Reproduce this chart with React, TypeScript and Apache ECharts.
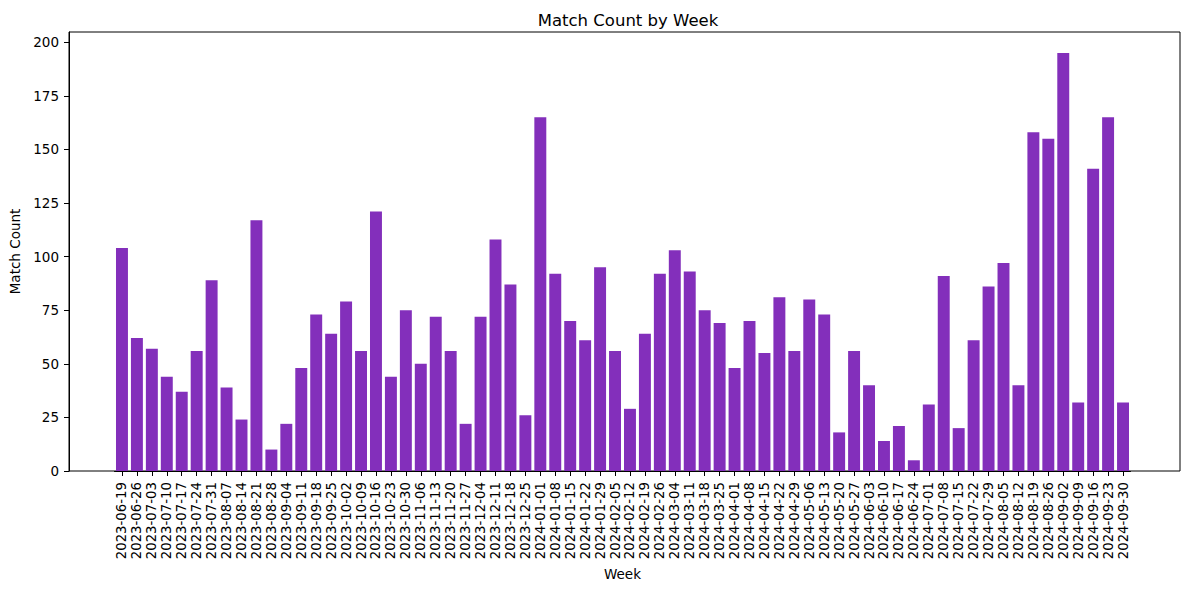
import React, { useEffect, useRef } from "react";
import * as echarts from "echarts";

const weeks: string[] = [
  "2023-06-19", "2023-06-26", "2023-07-03", "2023-07-10", "2023-07-17", "2023-07-24", "2023-07-31",
  "2023-08-07", "2023-08-14", "2023-08-21", "2023-08-28", "2023-09-04", "2023-09-11", "2023-09-18",
  "2023-09-25", "2023-10-02", "2023-10-09", "2023-10-16", "2023-10-23", "2023-10-30", "2023-11-06",
  "2023-11-13", "2023-11-20", "2023-11-27", "2023-12-04", "2023-12-11", "2023-12-18", "2023-12-25",
  "2024-01-01", "2024-01-08", "2024-01-15", "2024-01-22", "2024-01-29", "2024-02-05", "2024-02-12",
  "2024-02-19", "2024-02-26", "2024-03-04", "2024-03-11", "2024-03-18", "2024-03-25", "2024-04-01",
  "2024-04-08", "2024-04-15", "2024-04-22", "2024-04-29", "2024-05-06", "2024-05-13", "2024-05-20",
  "2024-05-27", "2024-06-03", "2024-06-10", "2024-06-17", "2024-06-24", "2024-07-01", "2024-07-08",
  "2024-07-15", "2024-07-22", "2024-07-29", "2024-08-05", "2024-08-12", "2024-08-19", "2024-08-26",
  "2024-09-02", "2024-09-09", "2024-09-16", "2024-09-23", "2024-09-30",
];

const matchCounts: number[] = [
  104, 62, 57, 44, 37, 56, 89,
  39, 24, 117, 10, 22, 48, 73,
  64, 79, 56, 121, 44, 75, 50,
  72, 56, 22, 72, 108, 87, 26,
  165, 92, 70, 61, 95, 56, 29,
  64, 92, 103, 93, 75, 69, 48,
  70, 55, 81, 56, 80, 73, 18,
  56, 40, 14, 21, 5, 31, 91,
  20, 61, 86, 97, 40, 158, 155,
  195, 32, 141, 165, 32,
];

const yTicks: number[] = [0, 25, 50, 75, 100, 125, 150, 175, 200];

const FONT = "DejaVu Sans";

export default function App() {
  const ref = useRef<HTMLDivElement>(null);

  useEffect(() => {
    if (!ref.current) return;
    const chart = echarts.init(ref.current, undefined, { renderer: "svg" });
    const yMax = Math.max(...matchCounts) * 1.05;
    const tickStep = yTicks[1] - yTicks[0];
    chart.setOption({
      animation: false,
      backgroundColor: "#ffffff",
      textStyle: { fontFamily: FONT },
      title: {
        text: "Match Count by Week",
        left: 623,
        textAlign: "center",
        top: 7,
        textStyle: { fontFamily: FONT, fontSize: 16.5, fontWeight: "normal", color: "#000" },
      },
      grid: [
        {
          left: 66, right: 9, top: 32, bottom: 119,
          show: true, borderColor: "#000", borderWidth: 1, backgroundColor: "transparent",
          containLabel: false,
        },
        {
          left: 114.5, right: 58.5, top: 32, bottom: 119,
          containLabel: false,
        },
      ],
      xAxis: [
        { type: "value", gridIndex: 0, min: 0, max: 1, show: false },
        {
          type: "category",
          gridIndex: 1,
          data: weeks,
          name: "Week",
          nameLocation: "middle",
          nameGap: 95,
          nameTextStyle: { fontFamily: FONT, fontSize: 13.5, color: "#000", verticalAlign: "top" },
          axisLine: { show: true, lineStyle: { color: "#000", width: 1 } },
          axisTick: { show: true, alignWithLabel: true, interval: 0, length: 5, lineStyle: { color: "#000" } },
          axisLabel: { interval: 0, rotate: 90, fontFamily: FONT, fontSize: 13.3, color: "#000", margin: 11 },
          splitLine: { show: false },
        },
      ],
      yAxis: [
        {
          type: "value",
          gridIndex: 0,
          min: 0,
          max: yMax,
          interval: tickStep,
          name: "Match Count",
          nameLocation: "middle",
          nameGap: 47,
          nameTextStyle: { fontFamily: FONT, fontSize: 13.5, color: "#000" },
          axisLine: { show: true, lineStyle: { color: "#000", width: 1 } },
          axisTick: { show: true, length: 5, lineStyle: { color: "#000" } },
          axisLabel: {
            fontFamily: FONT, fontSize: 13.5, color: "#000", margin: 10,
            formatter: (v: number) => (yTicks.includes(v) ? String(v) : ""),
            showMaxLabel: false,
          },
          splitLine: { show: false },
        },
        { type: "value", gridIndex: 1, min: 0, max: yMax, show: false },
      ],
      series: [
        {
          type: "bar",
          xAxisIndex: 1,
          yAxisIndex: 1,
          data: matchCounts,
          barWidth: "80%",
          itemStyle: { color: "#832FBB" },
        },
      ],
    });
    return () => chart.dispose();
  }, []);

  return (
    <div
      ref={ref}
      style={{ position: "fixed", left: 0, top: 0, width: 1189, height: 590 }}
    />
  );
}
